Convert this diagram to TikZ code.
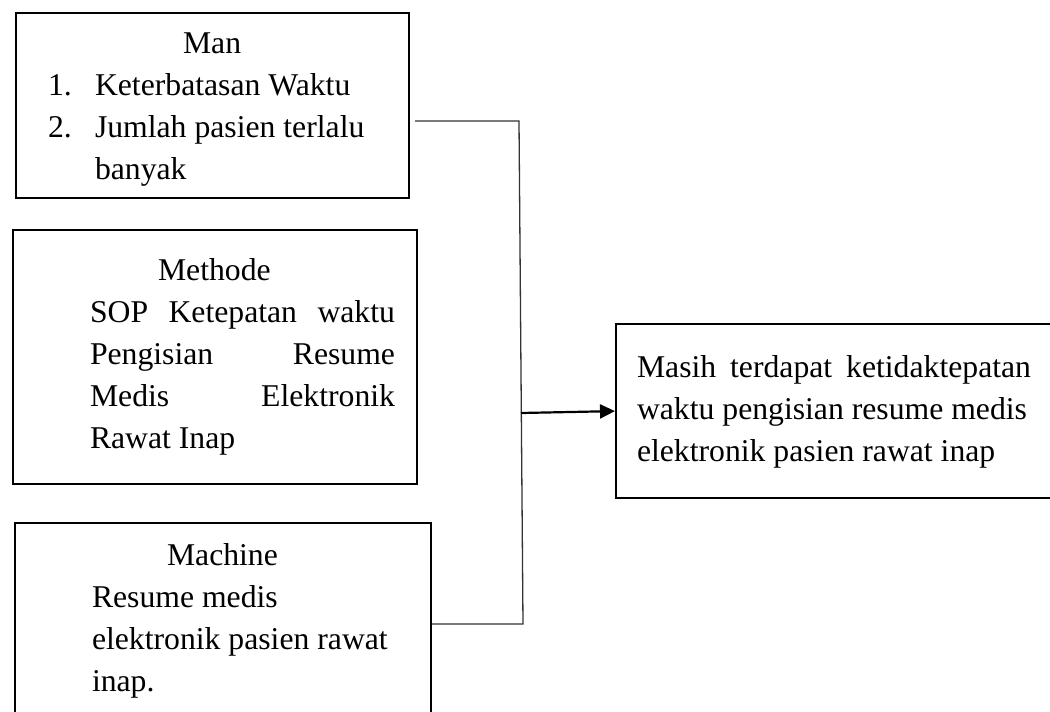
\documentclass[tikz,border=0pt]{standalone}
\usepackage{fontspec}
\setmainfont{Liberation Serif}
\usetikzlibrary{arrows.meta}

\tikzset{
  frame/.style={draw=black, line width=2.2pt, rectangle, anchor=north west, inner sep=0pt},
  txt/.style={anchor=base west, inner sep=0pt, outer sep=0pt,
              font=\fontsize{31.7}{42.3}\selectfont, align=flush left, text width=520pt},
  conn/.style={draw=black!80, line width=1.3pt},
  arrowline/.style={draw=black, line width=2.2pt,
                    -{Triangle[length=15pt,width=14pt]}},
}
% a justified line: words spread over a fixed width
\newcommand{\spreadline}[2]{\leavevmode\hbox to #1{#2}}

\begin{document}
\begin{tikzpicture}[x=1pt, y=-1pt]
  \useasboundingbox (0,0) rectangle (1050,712);
  \clip (0,0) rectangle (1050,712);

  % cause boxes
  \node[frame, minimum width=393pt, minimum height=185pt] (man) at (15,12) {};
  \node[frame, minimum width=404pt, minimum height=254pt] (methode) at (12,229) {};
  \node[frame, minimum width=416pt, minimum height=260pt] (machine) at (14,522) {};
  % effect box
  \node[frame, minimum width=470pt, minimum height=174pt] (result) at (615,323) {};

  % Man
  \node[txt] (manT) at (183,53) {Man};
  \node[txt] (manN1) at (48,95) {1.};
  \node[txt] (manI1) at (95,95) {Keterbatasan Waktu};
  \node[txt] (manN2) at (48,137) {2.};
  \node[txt] (manI2) at (95,137) {Jumlah pasien terlalu\\banyak};

  % Methode
  \node[txt] (metT) at (158,280) {Methode};
  \node[txt] (metB) at (90,322)
    {\spreadline{305pt}{SOP\hfill Ketepatan\hfill waktu}\\
     \spreadline{305pt}{Pengisian\hfill Resume}\\
     \spreadline{305pt}{Medis\hfill Elektronik}\\
     Rawat Inap};

  % Machine
  \node[txt] (macT) at (167,565) {Machine};
  \node[txt] (macB) at (92,607)
    {Resume medis\\elektronik pasien rawat\\inap.};

  % Effect
  \node[txt] (resT) at (637,377)
    {\spreadline{394pt}{Masih\hfill terdapat\hfill ketidaktepatan}\\
     waktu pengisian resume medis\\
     elektronik pasien rawat inap};

  % connectors
  \coordinate (j1) at (519,121);
  \coordinate (j2) at (523,624);
  \coordinate (a0) at (521,413);
  \draw[conn] ([xshift=5pt]man.east |- j1) -- (j1) -- (j2) -- (machine.east |- j2);
  \draw[arrowline] (a0) -- (result.west);
\end{tikzpicture}
\end{document}
